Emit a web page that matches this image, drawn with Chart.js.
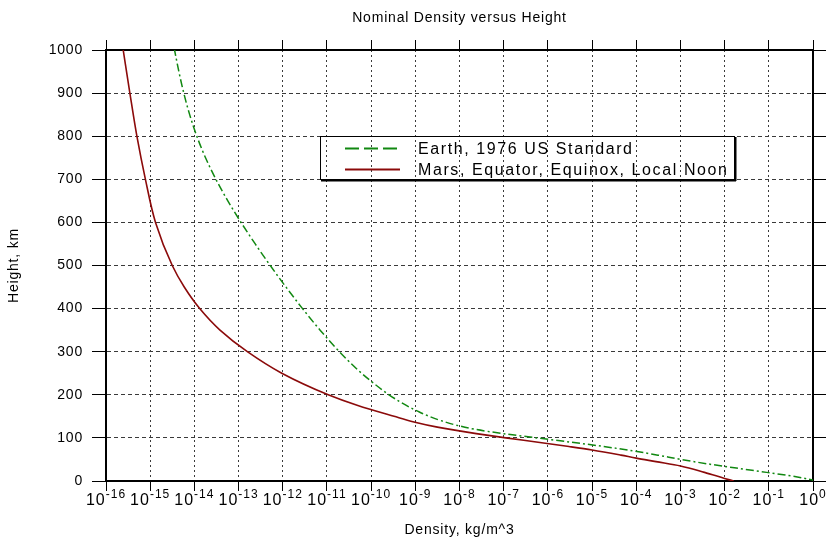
<!DOCTYPE html>
<html>
<head>
<meta charset="utf-8">
<script src="https://cdn.jsdelivr.net/npm/chart.js@4.4.0/dist/chart.umd.min.js"></script>
<style>
  html, body { margin: 0; padding: 0; background: #fff; }
  #wrap { width: 827px; height: 543px; }
</style>
</head>
<body>
<div id="wrap"><canvas id="chart" width="827" height="543"></canvas></div>
<script>
// Earth, 1976 US Standard atmosphere: height (km) and density (kg/m^3)
const earthHeight = [0, 10, 20, 30, 40, 50, 60, 70, 80, 90, 100, 110, 120, 130, 140, 150, 160, 170, 180, 190, 200,
  250, 300, 350, 400, 450, 500, 550, 600, 650, 700, 750, 800, 850, 900, 950, 1000];
const earthDensity = [1.225, 0.4135, 0.08891, 0.01841, 0.003996, 0.001027, 3.097e-4, 8.283e-5, 1.846e-5, 3.416e-6,
  5.604e-7, 9.708e-8, 2.222e-8, 8.152e-9, 3.831e-9, 2.076e-9, 1.233e-9, 7.815e-10, 5.194e-10, 3.581e-10, 2.541e-10,
  6.073e-11, 1.916e-11, 7.014e-12, 2.803e-12, 1.184e-12, 5.215e-13, 2.384e-13, 1.137e-13, 5.712e-14, 3.070e-14,
  1.788e-14, 1.136e-14, 7.824e-15, 5.759e-15, 4.453e-15, 3.561e-15];

// Mars, equator, equinox, local noon
const marsHeight = [0, 6, 20, 35, 45, 53, 60, 72, 80, 90, 100, 110, 125, 137, 150, 175, 200, 250, 300, 350, 400,
  450, 500, 600, 700, 800, 900, 1000];
const marsDensity = [1.6e-2, 1e-2, 3.5e-3, 1e-3, 2.8e-4, 1e-4, 4.5e-5, 1e-5, 3e-6, 6e-7, 1.12e-7, 2.4e-8, 3.16e-9,
  9.3e-10, 3.3e-10, 5e-11, 1.07e-11, 9.5e-13, 1.58e-13, 3.8e-14, 1.32e-14, 5.9e-15, 3.16e-15, 1.32e-15, 7.8e-16,
  5e-16, 3.47e-16, 2.45e-16];

const xTicks = [1e-16, 1e-15, 1e-14, 1e-13, 1e-12, 1e-11, 1e-10, 1e-9, 1e-8, 1e-7, 1e-6, 1e-5, 1e-4, 1e-3, 1e-2, 1e-1, 1];
const xTickExp = ['-16', '-15', '-14', '-13', '-12', '-11', '-10', '-9', '-8', '-7', '-6', '-5', '-4', '-3', '-2', '-1', '0'];

const FONT = "'Liberation Sans', Arial, sans-serif";

const toPoints = (hs, ds) => hs.map((h, i) => ({ x: ds[i], y: h }));
const setDecades = (scale) => { scale.ticks = xTicks.map(v => ({ value: v })); };

// slightly wider letters, like the old bitmap font of the original
const spacing = {
  id: 'spacing',
  beforeDraw(chart) { chart.ctx.letterSpacing = '0.8px'; }
};

// 10^n labels under the x axis
const powerLabels = {
  id: 'powerLabels',
  afterDraw(chart) {
    const scale = chart.scales.x;
    const ctx = chart.ctx;
    ctx.save();
    ctx.fillStyle = '#000';
    ctx.textAlign = 'left';
    ctx.textBaseline = 'alphabetic';
    ctx.letterSpacing = '1px';
    scale.ticks.forEach((t, i) => {
      const x = scale.getPixelForValue(t.value);
      ctx.font = '16px ' + FONT;
      const wb = ctx.measureText('10').width;
      ctx.font = '12px ' + FONT;
      const we = ctx.measureText(xTickExp[i]).width;
      const left = x - (wb + we) / 2;
      ctx.font = '16px ' + FONT;
      ctx.fillText('10', left, 505);
      ctx.font = '12px ' + FONT;
      ctx.fillText(xTickExp[i], left + wb, 498);
    });
    ctx.restore();
  }
};

// legend box inside the plot, grid shows through it
const insideLegend = {
  id: 'insideLegend',
  afterDraw(chart) {
    const ctx = chart.ctx;
    ctx.save();
    ctx.strokeStyle = '#000';
    ctx.lineWidth = 1;
    ctx.strokeRect(320.5, 136.5, 414, 43);
    ctx.lineWidth = 2;
    ctx.beginPath();
    ctx.moveTo(735.5, 137); ctx.lineTo(735.5, 181);
    ctx.moveTo(321, 180.5); ctx.lineTo(736, 180.5);
    ctx.stroke();
    ctx.letterSpacing = '1.6px';
    ctx.font = '16px ' + FONT;
    ctx.textBaseline = 'middle';
    ctx.fillStyle = '#000';
    chart.data.datasets.forEach((ds, i) => {
      const y = 148.5 + i * 21;
      ctx.strokeStyle = ds.borderColor;
      ctx.lineWidth = 2;
      ctx.setLineDash(ds.legendDash || []);
      ctx.beginPath();
      ctx.moveTo(345, y); ctx.lineTo(400, y);
      ctx.stroke();
      ctx.setLineDash([]);
      ctx.fillText(ds.label, 418, y + 1);
    });
    ctx.restore();
  }
};

new Chart(document.getElementById('chart'), {
  type: 'line',
  data: {
    datasets: [{
      label: 'Earth, 1976 US Standard',
      data: toPoints(earthHeight, earthDensity),
      borderColor: '#118811',
      borderWidth: 1.5,
      borderDash: [8, 3, 2, 3],
      legendDash: [14, 5],
      pointRadius: 0,
      cubicInterpolationMode: 'monotone'
    }, {
      label: 'Mars, Equator, Equinox, Local Noon',
      data: toPoints(marsHeight, marsDensity),
      borderColor: '#8b0a0a',
      borderWidth: 1.6,
      pointRadius: 0,
      cubicInterpolationMode: 'monotone'
    }]
  },
  options: {
    indexAxis: 'y',
    responsive: false,
    animation: false,
    devicePixelRatio: 1,
    layout: { padding: 0 },
    plugins: {
      legend: { display: false },
      tooltip: { enabled: false },
      title: {
        display: true,
        fullSize: false,
        text: 'Nominal Density versus Height',
        color: '#000',
        font: { family: FONT, size: 14, weight: 'normal' },
        padding: { top: 10, bottom: 4 }
      }
    },
    scales: {
      x: {
        type: 'logarithmic',
        position: 'bottom',
        min: 1e-16,
        max: 1,
        afterBuildTicks: setDecades,
        ticks: { display: false },
        grid: { color: '#3a3a3a', lineWidth: 1, tickColor: '#000', tickLength: 10, tickWidth: 1 },
        border: { color: '#000', width: 2, dash: [2, 3] },
        title: {
          display: true, text: 'Density, kg/m^3', color: '#000',
          font: { family: FONT, size: 14 }, padding: { top: 0, bottom: 4 }
        },
        afterFit: (s) => { s.height = 62; }
      },
      x2: {
        type: 'logarithmic',
        position: 'top',
        min: 1e-16,
        max: 1,
        afterBuildTicks: setDecades,
        ticks: { display: false },
        grid: { drawOnChartArea: false, tickColor: '#000', tickLength: 10, tickWidth: 1 },
        border: { color: '#000', width: 2 },
        afterFit: (s) => { s.height = 19.2; }
      },
      y: {
        type: 'linear',
        position: 'left',
        min: 0,
        max: 1000,
        ticks: {
          stepSize: 100, color: '#000', font: { family: FONT, size: 14 }, padding: 9,
          callback: (v) => String(v)
        },
        grid: { color: '#3a3a3a', lineWidth: 1, tickColor: '#000', tickLength: 14, tickWidth: 1 },
        border: { color: '#000', width: 2, dash: [4, 3] },
        title: {
          display: true, text: 'Height, km', color: '#000',
          font: { family: FONT, size: 14 }, padding: { top: 6, bottom: 0 }
        },
        afterFit: (s) => { s.width = 106; }
      },
      y2: {
        type: 'linear',
        position: 'right',
        min: 0,
        max: 1000,
        ticks: { display: false, stepSize: 100 },
        grid: { drawOnChartArea: false, tickColor: '#000', tickLength: 13, tickWidth: 1 },
        border: { color: '#000', width: 2 },
        afterFit: (s) => { s.width = 14; }
      }
    }
  },
  plugins: [spacing, powerLabels, insideLegend]
});
</script>
</body>
</html>
